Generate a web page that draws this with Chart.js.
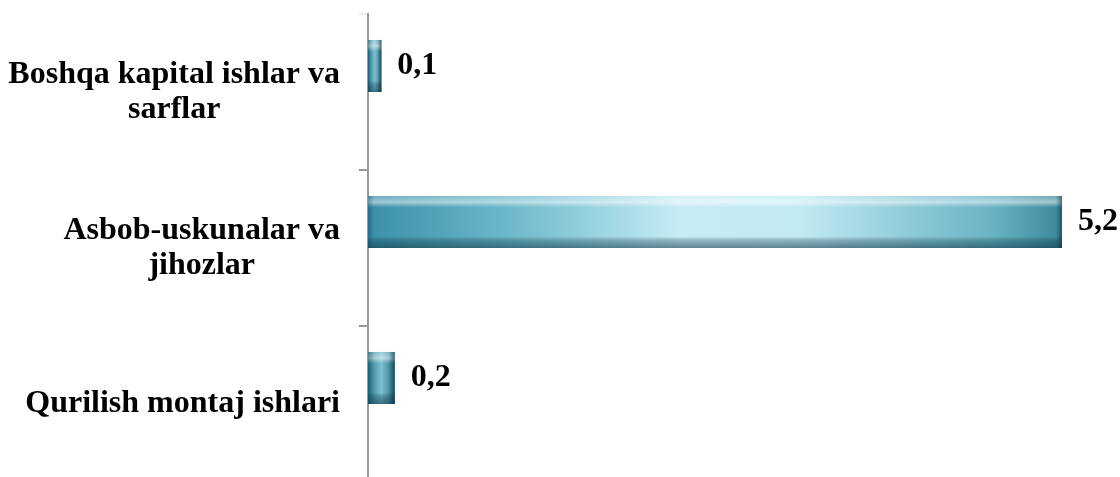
<!DOCTYPE html>
<html><head><meta charset="utf-8">
<script src="https://cdn.jsdelivr.net/npm/chart.js@4/dist/chart.umd.min.js"></script>
<style>html,body{margin:0;padding:0;background:#fff;overflow:hidden;} #wrap{position:relative;width:1120px;height:482px;}</style>
</head><body><div id="wrap"><canvas id="c"></canvas></div>
<script>
// ---- data ----
const categories = [["Boshqa kapital ishlar va", "sarflar"], ["Asbob-uskunalar va", "jihozlar"], ["Qurilish montaj ishlari"]];
const values = [0.1, 5.2, 0.2];
const spacerSeries = [null, null, null];
const xMin = 0, xMax = 5.5;

const FONT = "bold 32px 'Times New Roman', 'Liberation Serif', serif";
const AXIS_COLOR = '#999999';

const bevelPlugin = {
  id: 'bevel',
  afterDatasetsDraw(chart) {
    const ctx = chart.ctx;
    const meta = chart.getDatasetMeta(0);
    meta.data.forEach(bar => {
      const p = bar.getProps(['x', 'y', 'base', 'height'], true);
      const left = Math.min(p.x, p.base), right = Math.max(p.x, p.base);
      const top = p.y - p.height / 2, h = p.height, w = right - left;
      ctx.save();
      const long = w > 100;
      let g = ctx.createLinearGradient(left, 0, right, 0);
      if (long) {
        g.addColorStop(0, '#3a8fa7');
        g.addColorStop(0.2, '#6cb8ca');
        g.addColorStop(0.45, '#c6ecf5');
        g.addColorStop(0.62, '#c2eaf3');
        g.addColorStop(0.9, '#69b3c4');
        g.addColorStop(1, '#3b8799');
      } else {
        g.addColorStop(0, '#2f7a8f');
        g.addColorStop(0.5, '#79c1d1');
        g.addColorStop(1, '#2e7083');
      }
      ctx.fillStyle = g;
      ctx.fillRect(left, top, w, h);
      let v = ctx.createLinearGradient(0, top, 0, top + h);
      v.addColorStop(0, 'rgba(255,255,255,0.25)');
      v.addColorStop(0.12, 'rgba(255,255,255,0.5)');
      v.addColorStop(0.22, 'rgba(255,255,255,0.0)');
      v.addColorStop(0.78, 'rgba(0,0,0,0)');
      v.addColorStop(0.86, 'rgba(10,50,65,0.3)');
      v.addColorStop(1, 'rgba(10,50,65,0.55)');
      ctx.fillStyle = v;
      ctx.fillRect(left, top, w, h);
      const bw = Math.min(6, w / 4);
      let lg = ctx.createLinearGradient(left, 0, left + bw, 0);
      lg.addColorStop(0, 'rgba(0,50,70,0.35)');
      lg.addColorStop(1, 'rgba(0,50,70,0)');
      ctx.fillStyle = lg;
      ctx.fillRect(left, top, bw, h);
      let rg = ctx.createLinearGradient(right - bw, 0, right, 0);
      rg.addColorStop(0, 'rgba(0,40,55,0)');
      rg.addColorStop(1, 'rgba(0,40,55,0.5)');
      ctx.fillStyle = rg;
      ctx.fillRect(right - bw, top, bw, h);
      ctx.restore();
    });
  }
};

const valueLabelPlugin = {
  id: 'valueLabels',
  afterDatasetsDraw(chart) {
    const ctx = chart.ctx;
    const meta = chart.getDatasetMeta(0);
    ctx.save();
    ctx.font = FONT;
    ctx.fillStyle = '#000';
    ctx.textAlign = 'left';
    ctx.textBaseline = 'middle';
    meta.data.forEach((bar, i) => {
      const p = bar.getProps(['x', 'y'], true);
      const txt = values[i].toFixed(1).replace('.', ',');
      ctx.fillText(txt, p.x + 16, p.y);
    });
    ctx.restore();
  }
};

const categoryLabelPlugin = {
  id: 'categoryLabels',
  afterDraw(chart) {
    const ctx = chart.ctx;
    const ys = chart.scales.y;
    const lineH = 35;
    ctx.save();
    ctx.font = FONT;
    ctx.fillStyle = '#000';
    ctx.textAlign = 'center';
    ctx.textBaseline = 'middle';
    const rightEdge = ys.right - 28;
    categories.forEach((lab, i) => {
      const lines = Array.isArray(lab) ? lab : [lab];
      const widest = Math.max(...lines.map(l => ctx.measureText(l).width));
      const cx = rightEdge - widest / 2;
      const cy = ys.getPixelForValue(i);
      const y0 = cy - (lines.length - 1) * lineH / 2;
      lines.forEach((l, k) => ctx.fillText(l, cx, y0 + k * lineH));
    });
    ctx.restore();
  }
};

new Chart(document.getElementById('c'), {
  type: 'bar',
  data: {
    labels: categories,
    datasets: [
      { data: values, backgroundColor: '#4c9fb5', borderWidth: 0, categoryPercentage: 0.667, barPercentage: 1 },
      { data: spacerSeries, backgroundColor: 'rgba(0,0,0,0)', borderWidth: 0, categoryPercentage: 0.667, barPercentage: 1 }
    ]
  },
  options: {
    indexAxis: 'y',
    responsive: true,
    maintainAspectRatio: false,
    animation: false,
    layout: { padding: { top: 14, right: 18, bottom: 0, left: 0 } },
    plugins: { legend: { display: false }, tooltip: { enabled: false } },
    scales: {
      x: { display: false, min: xMin, max: xMax },
      y: {
        type: 'category',
        offset: true,
        grid: {
          display: true, offset: true, drawOnChartArea: false, drawTicks: true, tickLength: 9,
          color: (c) => (c.index === 0 ? '#eeeeee' : AXIS_COLOR), lineWidth: 2
        },
        border: { display: true, color: AXIS_COLOR, width: 2 },
        ticks: { display: false },
        afterFit(s) { s.width = 368; }
      }
    }
  },
  plugins: [bevelPlugin, valueLabelPlugin, categoryLabelPlugin]
});
</script>
</body></html>
